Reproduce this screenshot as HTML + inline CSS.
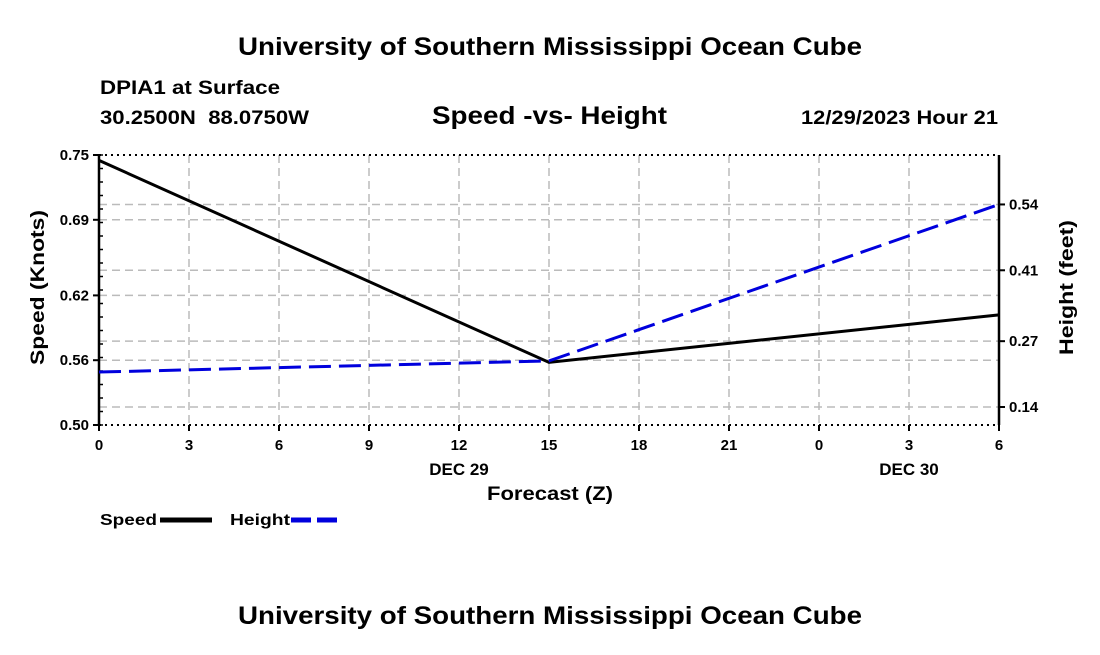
<!DOCTYPE html>
<html><head><meta charset="utf-8"><style>
body{margin:0;background:#fff;}
svg text{font-family:"Liberation Sans",Arial,sans-serif;font-weight:bold;fill:#000;}
</style></head><body>
<svg width="1100" height="650" xmlns="http://www.w3.org/2000/svg">
<text x="238" y="55" font-size="25" textLength="624" lengthAdjust="spacingAndGlyphs">University of Southern Mississippi Ocean Cube</text>
<text x="100" y="94" font-size="19" textLength="180" lengthAdjust="spacingAndGlyphs">DPIA1 at Surface</text>
<text x="100" y="124" font-size="19" textLength="209" lengthAdjust="spacingAndGlyphs" xml:space="preserve">30.2500N  88.0750W</text>
<text x="432" y="124" font-size="25" textLength="235" lengthAdjust="spacingAndGlyphs">Speed -vs- Height</text>
<text x="801" y="124" font-size="19" textLength="197" lengthAdjust="spacingAndGlyphs">12/29/2023 Hour 21</text>
<g id="grid"></g>
<g id="axes"></g>
<g id="series"></g>
<text x="487" y="500" font-size="19" textLength="126" lengthAdjust="spacingAndGlyphs">Forecast (Z)</text>
<text transform="translate(44,365) rotate(-90)" font-size="19" textLength="155" lengthAdjust="spacingAndGlyphs">Speed (Knots)</text>
<text transform="translate(1073,355) rotate(-90)" font-size="19" textLength="135" lengthAdjust="spacingAndGlyphs">Height (feet)</text>
<g><text x="100" y="525" font-size="16" textLength="57" lengthAdjust="spacingAndGlyphs">Speed</text><line x1="160" y1="520" x2="212" y2="520" stroke="#000" stroke-width="5"/></g>
<g><text x="230" y="525" font-size="16" textLength="60" lengthAdjust="spacingAndGlyphs">Height</text><line x1="291" y1="520" x2="343" y2="520" stroke="#0000dd" stroke-width="5" stroke-dasharray="20,6"/></g>
<text x="238" y="624" font-size="25" textLength="624" lengthAdjust="spacingAndGlyphs">University of Southern Mississippi Ocean Cube</text>
</svg>
<script>
const xTickLabels=["0","3","6","9","12","15","18","21","0","3","6"];
const hours=[0,15,30];
const speedValues=[0.745,0.558,0.602];
const heightValues=[0.209,0.231,0.54];
const leftTicks=[0.50,0.56,0.62,0.69,0.75];
const rightTicks=[0.14,0.27,0.41,0.54];
const dayLabels=[{h:12,t:"DEC 29"},{h:27,t:"DEC 30"}];
const NS="http://www.w3.org/2000/svg";
const L=99,R=999,T=155,B=425;
const xs=h=>L+h/30*(R-L);
const yl=v=>B-(v-0.5)/0.25*(B-T);
const yr=v=>405+ (0.14-v)/0.1333*67.5+2;
function mk(p,tag,a,txt){const e=document.createElementNS(NS,tag);for(const k in a)e.setAttribute(k,a[k]);if(txt!==undefined)e.textContent=txt;p.appendChild(e);return e;}
const g=document.getElementById('grid'),ax=document.getElementById('axes'),s=document.getElementById('series');
const gs={stroke:"#bbb","stroke-width":1.5,"stroke-dasharray":"8,5"};
xTickLabels.forEach((t,i)=>{const x=xs(i*3);
 if(i>0&&i<10){const l=mk(g,'line',Object.assign({x1:x,x2:x,y1:T,y2:B},gs));}
 mk(ax,'line',{x1:x,x2:x,y1:B,y2:B+6,stroke:"#000","stroke-width":2});
 const e=mk(ax,'text',{x:x,y:B+25,"font-size":15,"text-anchor":"middle"},t);
 });
dayLabels.forEach(d=>{const e=mk(ax,'text',{x:xs(d.h),y:B+50,"font-size":17,"text-anchor":"middle"},d.t);
 });
leftTicks.forEach(v=>{const y=yl(v);
 if(v>0.5&&v<0.75){const l=mk(g,'line',Object.assign({x1:L,x2:R,y1:y,y2:y},gs));}
 mk(ax,'line',{x1:L-6,x2:L,y1:y,y2:y,stroke:"#000","stroke-width":2});
 const e=mk(ax,'text',{x:L-10,y:y+5,"font-size":15,"text-anchor":"end"},v.toFixed(2));
 });
for(let y=T;y<=B;y+=13.5)mk(ax,'line',{x1:L,x2:L+4,y1:y,y2:y,stroke:"#000","stroke-width":1.5});
rightTicks.forEach(v=>{const y=yr(v);
 const l=mk(g,'line',Object.assign({x1:L,x2:R,y1:y,y2:y},gs));
 mk(ax,'line',{x1:R,x2:R+6,y1:y,y2:y,stroke:"#000","stroke-width":2});
 const e=mk(ax,'text',{x:R+10,y:y+5,"font-size":15},v.toFixed(2));
 });
mk(ax,'line',{x1:L,x2:R,y1:T,y2:T,stroke:"#000","stroke-width":2,"stroke-dasharray":"2,4"});
mk(ax,'line',{x1:L,x2:R,y1:B,y2:B,stroke:"#000","stroke-width":2,"stroke-dasharray":"2,4"});
mk(ax,'line',{x1:L,x2:L,y1:T,y2:B,stroke:"#000","stroke-width":2.5});
mk(ax,'line',{x1:R,x2:R,y1:T,y2:B,stroke:"#000","stroke-width":2.5});
const sp=mk(s,'polyline',{points:hours.map((h,i)=>xs(h)+','+yl(speedValues[i])).join(' '),fill:"none",stroke:"#000","stroke-width":3});

const hp=mk(s,'polyline',{points:hours.map((h,i)=>xs(h)+','+yr(heightValues[i])).join(' '),fill:"none",stroke:"#0000dd","stroke-width":3,"stroke-dasharray":"22,8"});

</script>
</body></html>
